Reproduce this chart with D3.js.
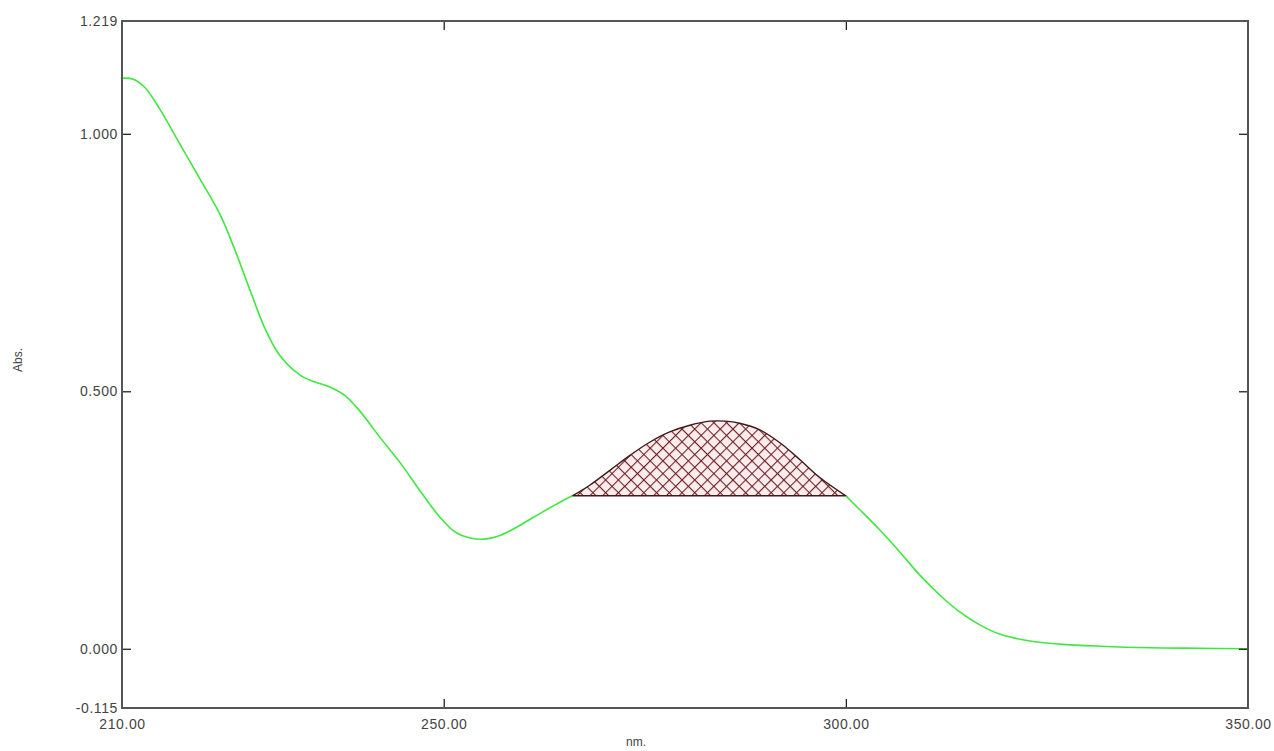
<!DOCTYPE html>
<html>
<head>
<meta charset="utf-8">
<script src="https://cdn.jsdelivr.net/npm/d3@7"></script>
<style>
  body { margin: 0; background: #fff; }
  svg text { font-family: "Liberation Sans", Arial, sans-serif; fill: #444; }
</style>
</head>
<body>
<svg id="chart" width="1274" height="751"></svg>
<script>
// spectrum (nm, Abs.)
const wavelength = [210, 211.4, 212.9, 214.7, 217.2, 219.7, 222.2, 224, 225.9, 227.8, 229.6, 232.1, 234, 235.9,
  237.7, 239.6, 242.1, 244.6, 247, 249.5, 251.4, 253.3, 255.1, 257, 259.5, 262, 264.5, 266,
  268.2, 270.7, 273.2, 275.6, 278.1, 280.6, 283.1, 285, 286.8, 289.3, 291.8, 294.3, 296.8, 300,
  301.8, 304.2, 306.7, 309.2, 311.7, 314.2, 316.7, 319.2, 322.9, 326.6, 331.6, 337.8, 344, 350];
const absorbance = [1.108, 1.106, 1.089, 1.048, 0.980, 0.912, 0.843, 0.776, 0.697, 0.621, 0.570, 0.532, 0.518, 0.508,
  0.492, 0.461, 0.410, 0.361, 0.308, 0.256, 0.227, 0.215, 0.213, 0.220, 0.240, 0.263, 0.285, 0.297,
  0.318, 0.347, 0.376, 0.401, 0.421, 0.434, 0.442, 0.442, 0.438, 0.425, 0.400, 0.367, 0.332, 0.297,
  0.269, 0.231, 0.188, 0.143, 0.104, 0.071, 0.046, 0.028, 0.015, 0.009, 0.005, 0.002, 0.001, 0.000];

// peak area limits
const peakStart = 266;
const peakEnd = 300;

const xDomain = [210, 350];
const yDomain = [-0.115, 1.219];
const xTicks = [210, 250, 300, 350];
const yTicks = [-0.115, 0, 0.5, 1, 1.219];
const yInnerTicks = [0, 0.5, 1];
const xInnerTicks = [250, 300];

const svg = d3.select('#chart');
const margin = {left: 122, top: 21, right: 26, bottom: 43};
const width = 1274 - margin.left - margin.right;
const height = 751 - margin.top - margin.bottom;

const x = d3.scaleLinear().domain(xDomain).range([0, width]);
const y = d3.scaleLinear().domain(yDomain).range([height, 0]);

const data = wavelength.map((w, i) => ({w: w, a: absorbance[i]}));

// cross hatch pattern
const defs = svg.append('defs');
const pat = defs.append('pattern')
  .attr('id', 'hatch')
  .attr('patternUnits', 'userSpaceOnUse')
  .attr('width', 9).attr('height', 9)
  .attr('patternTransform', 'rotate(45)');
pat.append('rect').attr('width', 9).attr('height', 9).attr('fill', '#fbecee');
pat.append('line').attr('x1', 0).attr('y1', 0).attr('x2', 0).attr('y2', 9)
  .attr('stroke', '#6e2222').attr('stroke-width', 2.2);
pat.append('line').attr('x1', 0).attr('y1', 0).attr('x2', 9).attr('y2', 0)
  .attr('stroke', '#6e2222').attr('stroke-width', 2.2);

const g = svg.append('g').attr('transform', `translate(${margin.left},${margin.top})`);

// hatched area between the curve and the straight baseline
const peak = data.filter(d => d.w >= peakStart && d.w <= peakEnd);
const a0 = peak[0].a, a1 = peak[peak.length - 1].a;
const base = w => a0 + (a1 - a0) * (w - peakStart) / (peakEnd - peakStart);

const area = d3.area()
  .x(d => x(d.w))
  .y0(d => y(base(d.w)))
  .y1(d => y(d.a))
  .curve(d3.curveCatmullRom.alpha(0.5));

g.append('path')
  .datum(peak)
  .attr('d', area)
  .attr('fill', 'url(#hatch)')
  .attr('stroke', '#3e1a1a')
  .attr('stroke-width', 1.4);

// spectrum line
const line = d3.line()
  .x(d => x(d.w))
  .y(d => y(d.a))
  .curve(d3.curveCatmullRom.alpha(0.5));

g.append('path')
  .datum(data.filter(d => d.w <= peakStart))
  .attr('d', line)
  .attr('fill', 'none')
  .attr('stroke', '#3fe83f')
  .attr('stroke-width', 1.6);
g.append('path')
  .datum(data.filter(d => d.w >= peakEnd))
  .attr('d', line)
  .attr('fill', 'none')
  .attr('stroke', '#3fe83f')
  .attr('stroke-width', 1.6);

// axes (plain hyphen for negatives, like the instrument printout)
const fmtY = d => d.toFixed(3);
const fmtX = d => d.toFixed(2);

const yAxis = g.append('g')
  .call(d3.axisLeft(y).tickValues(yTicks).tickFormat(fmtY).tickSizeInner(0).tickSizeOuter(0).tickPadding(4));
yAxis.selectAll('.tick')
  .filter(d => yInnerTicks.includes(d))
  .select('line').attr('x2', 9);

const yRight = g.append('g')
  .attr('transform', `translate(${width},0)`)
  .call(d3.axisRight(y).tickValues(yInnerTicks).tickFormat('').tickSizeInner(-9).tickSizeOuter(0));

const xAxis = g.append('g')
  .attr('transform', `translate(0,${height})`)
  .call(d3.axisBottom(x).tickValues(xTicks).tickFormat(fmtX).tickSizeInner(0).tickSizeOuter(0).tickPadding(11));
xAxis.selectAll('.tick')
  .filter(d => xInnerTicks.includes(d))
  .select('line').attr('y2', -9);

const xTop = g.append('g')
  .call(d3.axisTop(x).tickValues(xInnerTicks).tickFormat('').tickSizeInner(-9).tickSizeOuter(0));

[yAxis, yRight, xAxis, xTop].forEach(ax => {
  ax.select('.domain').remove();
  ax.selectAll('line').attr('stroke', '#222').attr('stroke-width', 1.3);
  ax.selectAll('text').style('font-size', '14px').style('letter-spacing', '0.6px').attr('fill', '#444');
});

// frame
g.append('rect')
  .attr('width', width).attr('height', height)
  .attr('fill', 'none')
  .attr('stroke', '#555')
  .attr('stroke-width', 2);

// axis titles
svg.append('text')
  .attr('transform', 'translate(22,360) rotate(-90)')
  .attr('text-anchor', 'middle')
  .style('font-size', '12px')
  .text('Abs.');

svg.append('text')
  .attr('x', 636).attr('y', 746)
  .attr('text-anchor', 'middle')
  .style('font-size', '12px')
  .text('nm.');
</script>
</body>
</html>
